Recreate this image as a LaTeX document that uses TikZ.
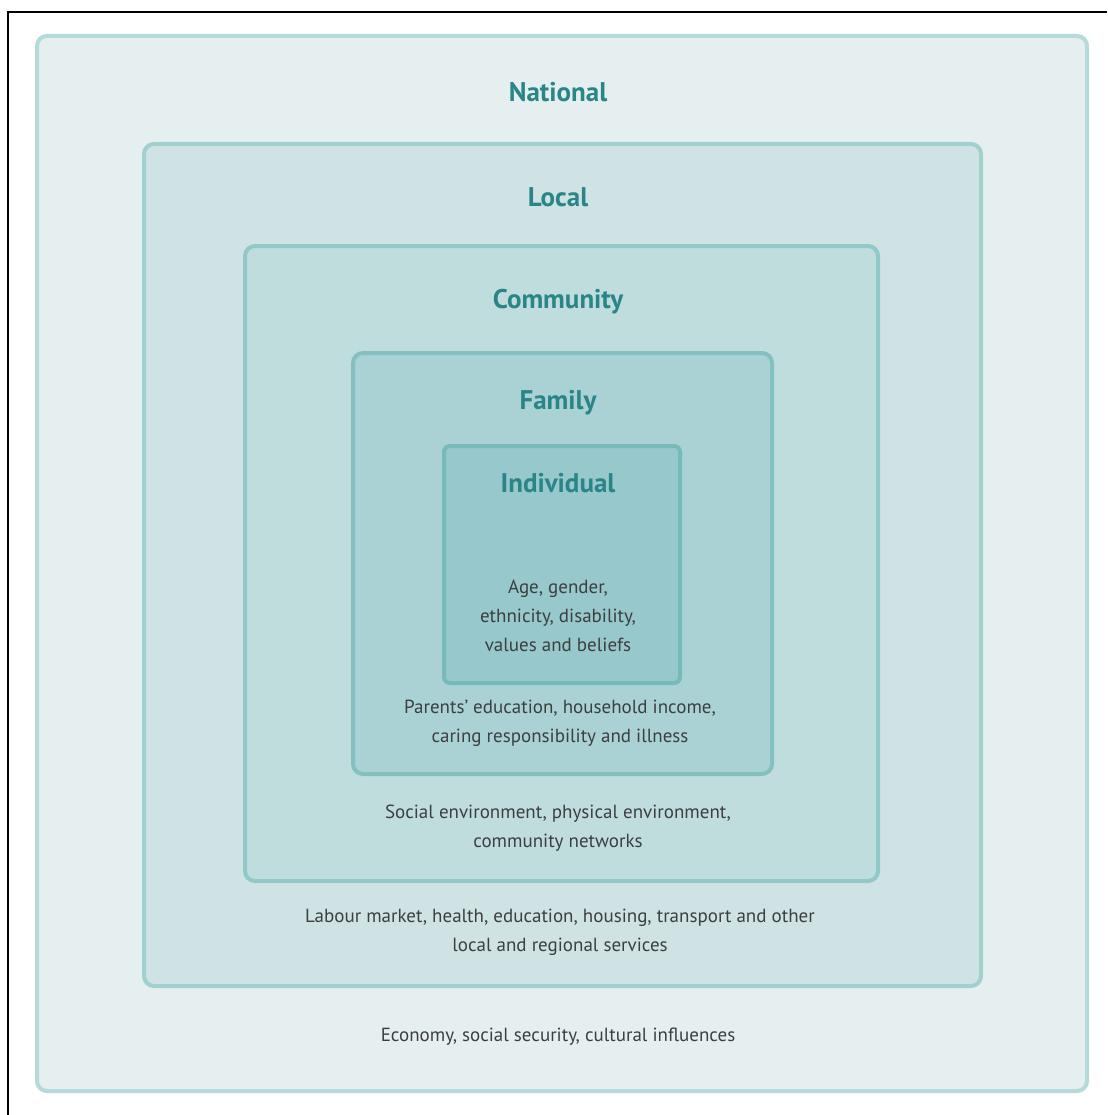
\documentclass[tikz,border=0pt]{standalone}
\usepackage{xcolor}
\usepackage{fontspec}
\setmainfont{PT Sans}
\usepackage{tikz}

\definecolor{nationalfill}{HTML}{E6EFF0}
\definecolor{nationaledge}{HTML}{B4DBD9}
\definecolor{localfill}{HTML}{CFE3E5}
\definecolor{localedge}{HTML}{A0D1CF}
\definecolor{communityfill}{HTML}{C0DDDE}
\definecolor{communityedge}{HTML}{90C9C7}
\definecolor{familyfill}{HTML}{AAD2D5}
\definecolor{familyedge}{HTML}{82C1C0}
\definecolor{individualfill}{HTML}{97C8CB}
\definecolor{individualedge}{HTML}{76BABA}
\definecolor{titleteal}{HTML}{2A8588}
\definecolor{notegray}{HTML}{3C3F40}

\begin{document}
\begin{tikzpicture}[x=1pt, y=-1pt,
    tier/.style={line width=4pt, rounded corners=10pt},
    title/.style={text=titleteal, font=\fontsize{27}{32}\selectfont\bfseries},
    note/.style={text=notegray, align=center, font=\fontsize{19}{29}\selectfont}]
    \useasboundingbox[fill=white] (0,0) rectangle (1107,1115);
    \draw[black, line width=2pt] (8,1115) -- (8,12) -- (1107,12);

    % nested levels
    \draw[tier, draw=nationaledge, fill=nationalfill] (37,36) rectangle (1087,1091);
    \draw[tier, draw=localedge, fill=localfill] (144,144) rectangle (981,986);
    \draw[tier, draw=communityedge, fill=communityfill] (245,246) rectangle (878,881);
    \draw[tier, draw=familyedge, fill=familyfill] (353,353) rectangle (772,774);
    \draw[tier, draw=individualedge, fill=individualfill, rounded corners=6pt] (444,446) rectangle (680,683);

    % level titles
    \node[title] (national) at (558,92) {National};
    \node[title] (local) at (558,197) {Local};
    \node[title] (community) at (558,302) {Community};
    \node[title] (family) at (558,403) {Family};
    \node[title] (individual) at (558,483) {Individual};

    % factors at each level
    \node[note] (individualnote) at (558,616) {Age, gender,\\ethnicity, disability,\\values and beliefs};
    \node[note] (familynote) at (560,723) {Parents' education, household income,\\caring responsibility and illness};
    \node[note] (communitynote) at (558,828) {Social environment, physical environment,\\community networks};
    \node[note] (localnote) at (560,932) {Labour market, health, education, housing, transport and other\\local and regional services};
    \node[note] (nationalnote) at (558,1037) {Economy, social security, cultural influences};
\end{tikzpicture}
\end{document}
